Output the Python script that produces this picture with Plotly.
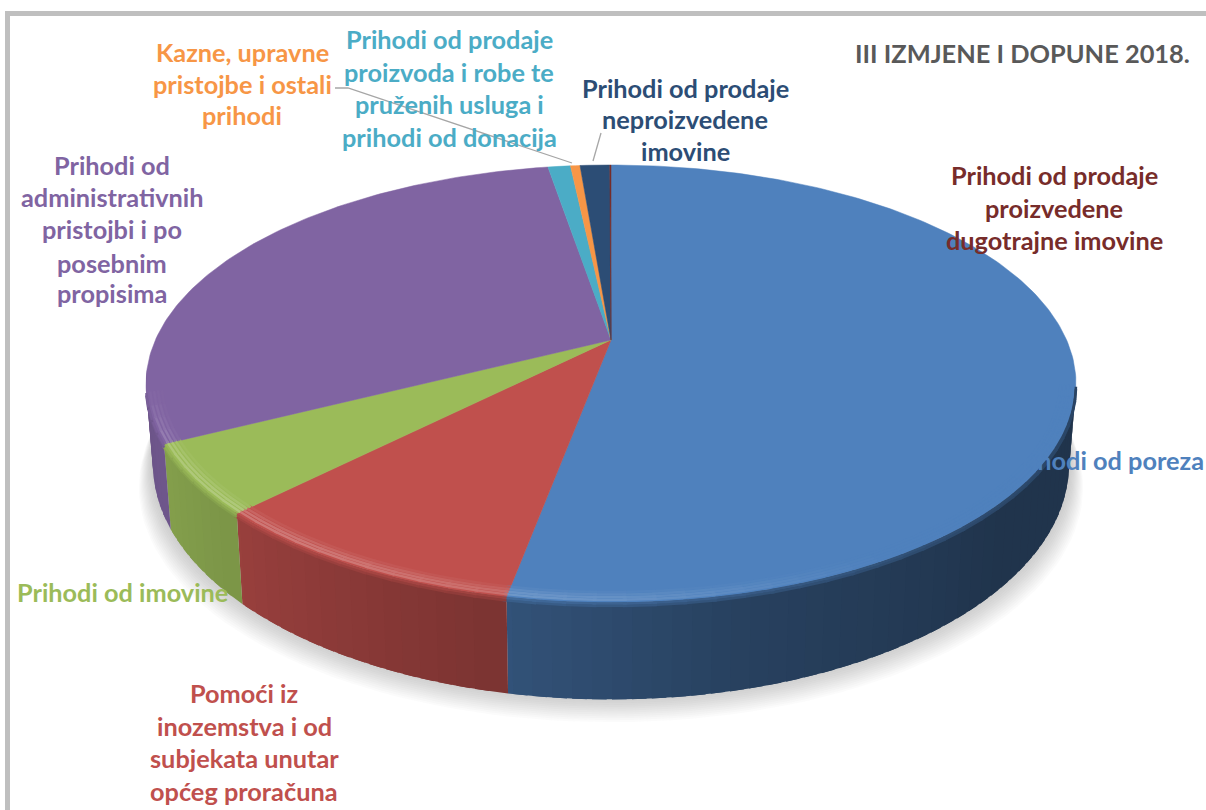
import numpy as np
import plotly.graph_objects as go

# ---- data (share of revenue, %) ----
categories = ["Prihodi od poreza",
              "Pomoći iz inozemstva i od subjekata unutar općeg proračuna",
              "Prihodi od imovine",
              "Prihodi od administrativnih pristojbi i po posebnim propisima",
              "Prihodi od prodaje proizvoda i robe te pruženih usluga i prihodi od donacija",
              "Kazne, upravne pristojbe i ostali prihodi",
              "Prihodi od prodaje neproizvedene imovine",
              "Prihodi od prodaje proizvedene dugotrajne imovine"]
values = [52.95, 9.5, 5.1, 29.8, 0.95, 0.4, 1.25, 0.05]
colors = ["#4f81bd", "#c0504d", "#9bbb59", "#8064a2", "#4bacc6", "#f79646", "#2c4d75", "#772c2a"]
title_text = "III IZMJENE I DOPUNE 2018."

# label lines: text, x, y, anchor, colour index
label_lines = [
    ("Kazne, upravne", 242, 52, "center", 5), ("pristojbe i ostali", 242, 84, "center", 5), ("prihodi", 242, 115, "center", 5),
    ("Prihodi od prodaje", 449, 39, "center", 4), ("proizvoda i robe te", 449, 72, "center", 4),
    ("pruženih usluga i", 449, 104, "center", 4), ("prihodi od donacija", 449, 137, "center", 4),
    ("Prihodi od prodaje", 685, 88, "center", 6), ("neproizvedene", 685, 119, "center", 6), ("imovine", 685, 151, "center", 6),
    ("Prihodi od prodaje", 1054, 175, "center", 7), ("proizvedene", 1054, 208, "center", 7), ("dugotrajne imovine", 1054, 240, "center", 7),
    ("Prihodi od", 112, 165, "center", 3), ("administrativnih", 112, 197, "center", 3), ("pristojbi i po", 112, 229, "center", 3),
    ("posebnim", 112, 263, "center", 3), ("propisima", 112, 293, "center", 3),
    ("Prihodi od poreza", 1206, 460, "right", 0),
    ("Prihodi od imovine", 15, 592, "left", 2),
    ("Pomoći iz", 244, 693, "center", 1), ("inozemstva i od", 244, 726, "center", 1),
    ("subjekata unutar", 244, 758, "center", 1), ("općeg proračuna", 244, 791, "center", 1),
]
FONT = "Lato"
FS = 25.3

# ---- projection of the tilted disc onto the page ----
CX, CY, R = 611.0, 340.0, 455.6
C, A = 0.2, -142.0
DEPTH, NARROW = 77.6, 0.985


def top(theta, r=1.0):
    u, v = r * np.sin(theta), r * np.cos(theta)
    w = 1 + C * v
    return CX + R * u / w, (A * v + CY) / w


def bottom(theta):
    x, y = top(theta)
    w = 1 + C * np.cos(theta)
    return CX + (x - CX) * NARROW, y + DEPTH / w


def rgb(h):
    return np.array([int(h[i:i + 2], 16) for i in (1, 3, 5)], float)


def css(c):
    c = np.clip(c, 0, 255)
    return f"rgb({c[0]:.0f},{c[1]:.0f},{c[2]:.0f})"


fig = go.Figure()


def poly(x, y, fill, line=None, width=0):
    fig.add_trace(go.Scatter(x=x, y=y, mode="lines", fill="toself", fillcolor=fill,
                             line=dict(color=line or fill, width=width), hoverinfo="skip", showlegend=False))


def stroke(x, y, color, width):
    fig.add_trace(go.Scatter(x=x, y=y, mode="lines", line=dict(color=color, width=width),
                             hoverinfo="skip", showlegend=False))


total = sum(values)
edges = np.radians(np.concatenate([[0], np.cumsum(values)]) / total * 360)

# soft shadow below the disc
ring = np.radians(np.linspace(0, 360, 181))
bx, by = bottom(ring)
for k in range(14, 0, -1):
    s = 1 + 0.0022 * k
    poly(CX + (bx - CX) * s, by + 1.9 * k - 4, "rgba(110,110,110,0.026)")

# side wall, shaded across the angle (painted left to right so each strip overlaps the next)
SH_T = [100, 130, 150, 165, 190, 225, 245, 268]
SH_V = [0.40, 0.40, 0.46, 0.50, 0.64, 0.80, 0.86, 0.80]
for i, col in enumerate(colors):
    a0, a1 = edges[i], edges[i + 1]
    lo, hi = max(a0, np.radians(101)), min(a1, np.radians(262))
    if hi <= lo:
        continue
    n = max(1, int(np.degrees(hi - lo) / 2))
    ts = np.linspace(lo, hi, n + 1)
    base = rgb(col)
    for t0, t1 in zip(ts[:-1][::-1], ts[1:][::-1]):
        seg = np.linspace(t0, min(t1 + np.radians(1.5), hi), 3)
        xt, yt = top(seg)
        xb, yb = bottom(seg)
        f = np.interp(np.degrees((t0 + t1) / 2), SH_T, SH_V)
        poly(np.r_[xt, xb[::-1]], np.r_[yt, yb[::-1]], css(base * f))

# top face
for i, col in enumerate(colors):
    seg = np.linspace(edges[i], edges[i + 1], max(3, int(values[i] * 4)))
    x, y = top(seg)
    poly(np.r_[CX, x, CX], np.r_[CY, y, CY], col, col, 0.5)

# bevel on the rim: lit on the left, fading to a dark blur on the right
LIT_T = [100, 150, 185, 215, 243, 256]
LIT_V = [0.0, 0.0, 0.16, 0.24, 0.18, 0.0]
DRK_T = [100, 150, 190, 268]
DRK_V = [1.0, 0.75, 0.45, 0.0]
BANDS = [(0.968, 0.2), (0.976, 0.55), (0.984, 0.9), (0.992, 1.0)]
for i, col in enumerate(colors):
    lo, hi = max(edges[i], np.radians(102)), min(edges[i + 1], np.radians(256))
    if hi <= lo:
        continue
    ts = np.linspace(lo, hi, max(1, int(np.degrees(hi - lo) / 3)) + 1)
    base = rgb(col)
    for t0, t1 in zip(ts[:-1], ts[1:]):
        seg = np.linspace(t0, t1 + np.radians(0.4), 3)
        mid = np.degrees((t0 + t1) / 2)
        lit = np.interp(mid, LIT_T, LIT_V)
        drk = np.interp(mid, DRK_T, DRK_V)
        f = np.interp(mid, SH_T, SH_V)
        side = base * f
        xr, yr = top(seg)
        stroke(xr, yr + 3.5, css(base * 0.25 + side * 0.75), 2.5)
        stroke(xr, yr + 1.2, css(base * (1 - 0.8 * (0.35 + 0.65 * drk)) + side * 0.8 * (0.35 + 0.65 * drk)), 2.5)
        for r, weight in BANDS:
            xb, yb = top(seg, r)
            stroke(xb, yb, css(base + (255 - base) * lit * weight), 2.4)

# leader lines
stroke([335, 348, 572], [88, 88, 163], "#a6a6a6", 1.3)
stroke([601, 593], [133, 161], "#a6a6a6", 1.3)

annotations = [dict(x=x, y=y, text=t, xref="x", yref="y", xanchor=a, yanchor="middle", showarrow=False,
                    font=dict(family=FONT, size=FS, color=colors[c], weight=700))
               for t, x, y, a, c in label_lines]
annotations.append(dict(x=1192, y=53, text=title_text, xref="x", yref="y", xanchor="right", yanchor="middle",
                        showarrow=False, font=dict(family=FONT, size=25.4, color="#595959", weight=700)))

fig.update_layout(
    width=1206, height=810, margin=dict(l=0, r=0, t=0, b=0),
    paper_bgcolor="white", plot_bgcolor="white", showlegend=False,
    xaxis=dict(range=[0, 1206], visible=False, fixedrange=True),
    yaxis=dict(range=[810, 0], visible=False, fixedrange=True),
    annotations=annotations,
    shapes=[dict(type="rect", x0=7.5, y0=13.5, x1=1230, y1=840, line=dict(color="#bfbfbf", width=5), layer="below")],
)
fig.write_html("out.html", config=dict(displayModeBar=False), post_script="document.body.style.margin='0';")
